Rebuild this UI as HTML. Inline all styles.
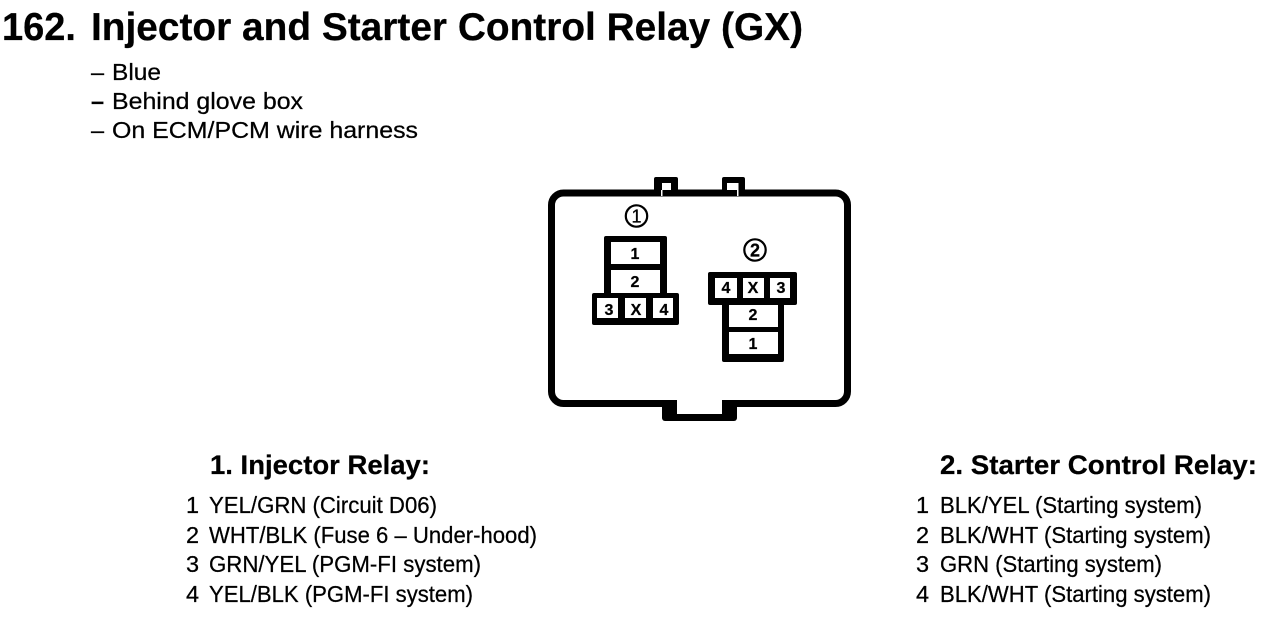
<!DOCTYPE html>
<html><head><meta charset="utf-8"><style>
html,body{margin:0;padding:0;background:#fff;width:1280px;height:624px;overflow:hidden}
svg{display:block}
text{font-family:"Liberation Sans",sans-serif;fill:#000;stroke:#000;stroke-width:.25px}
.t{font-size:39px;font-weight:bold}
.h{font-size:27px;font-weight:bold}
.b{font-size:23.500px}
.c{font-size:16px;font-weight:bold;text-anchor:middle}
</style></head><body>
<svg width="1280" height="624" viewBox="0 0 1280 624" xmlns="http://www.w3.org/2000/svg">
<text class="t" x="2" y="40" textLength="74" lengthAdjust="spacingAndGlyphs">162.</text>
<text class="t" x="91" y="40" textLength="712" lengthAdjust="spacingAndGlyphs">Injector and Starter Control Relay (GX)</text>
<text class="b" x="91" y="80">–</text><text class="b" x="112" y="80" textLength="49" lengthAdjust="spacingAndGlyphs">Blue</text>
<text class="b" x="91" y="109" style="font-weight:bold">–</text><text class="b" x="112" y="109" textLength="191" lengthAdjust="spacingAndGlyphs">Behind glove box</text>
<text class="b" x="91" y="138">–</text><text class="b" x="112" y="138" textLength="306" lengthAdjust="spacingAndGlyphs">On ECM/PCM wire harness</text>

<!-- housing -->
<rect x="551.500" y="193" width="296" height="210.500" rx="12" fill="none" stroke="#000" stroke-width="7"/>
<g fill="#000">
<rect x="654" y="177" width="24" height="19" rx="2"/>
<rect x="722" y="177" width="23" height="19" rx="2"/>
<rect x="662" y="400" width="75" height="21" rx="3"/>
</g>
<g fill="#fff">
<rect x="662" y="183" width="9" height="7"/>
<rect x="661" y="190" width="1.500" height="6"/>
<rect x="727" y="183" width="10" height="7"/>
<rect x="737" y="183" width="1.500" height="13"/>
<rect x="677" y="399" width="45" height="15"/>
</g>
<g fill="#000">
<rect x="604" y="236" width="63" height="62" rx="2"/>
<rect x="592" y="293" width="87" height="32" rx="2"/>
<rect x="708" y="272" width="89" height="33" rx="2"/>
<rect x="722" y="300" width="62" height="62" rx="2"/>
</g>
<g fill="#fff">
<rect x="611" y="242" width="49" height="22"/>
<rect x="611" y="270" width="49" height="23"/>
<rect x="597" y="298" width="21" height="20"/>
<rect x="625" y="298" width="21" height="20"/>
<rect x="653" y="298" width="20" height="20"/>
<rect x="715" y="278" width="22" height="20"/>
<rect x="743" y="278" width="21" height="20"/>
<rect x="770" y="278" width="20" height="20"/>
<rect x="729" y="305" width="49" height="22"/>
<rect x="729" y="332" width="49" height="22"/>
</g>
<text class="c" x="635" y="259">1</text>
<text class="c" x="635" y="287">2</text>
<text class="c" x="609" y="315">3</text>
<text class="c" x="636" y="315">X</text>
<text class="c" x="664" y="315">4</text>
<text class="c" x="726" y="293">4</text>
<text class="c" x="753" y="293">X</text>
<text class="c" x="781" y="293">3</text>
<text class="c" x="753" y="320">2</text>
<text class="c" x="753" y="349">1</text>
<circle cx="636.500" cy="216" r="10.700" fill="none" stroke="#000" stroke-width="2.200"/>
<text x="636.500" y="222.500" text-anchor="middle" style="font-size:18px">1</text>
<circle cx="755" cy="250" r="10.700" fill="none" stroke="#000" stroke-width="2.200"/>
<text x="755" y="256.500" text-anchor="middle" style="font-size:18px;font-weight:bold">2</text>

<text class="h" x="210" y="474" textLength="220" lengthAdjust="spacingAndGlyphs">1. Injector Relay:</text>
<text class="b" x="186" y="513">1</text><text class="b" x="209" y="513" textLength="228" lengthAdjust="spacingAndGlyphs">YEL/GRN (Circuit D06)</text>
<text class="b" x="186" y="543">2</text><text class="b" x="209" y="543" textLength="328" lengthAdjust="spacingAndGlyphs">WHT/BLK (Fuse 6 – Under-hood)</text>
<text class="b" x="186" y="572">3</text><text class="b" x="209" y="572" textLength="272" lengthAdjust="spacingAndGlyphs">GRN/YEL (PGM-FI system)</text>
<text class="b" x="186" y="602">4</text><text class="b" x="209" y="602" textLength="264" lengthAdjust="spacingAndGlyphs">YEL/BLK (PGM-FI system)</text>

<text class="h" x="940" y="474" textLength="317" lengthAdjust="spacingAndGlyphs">2. Starter Control Relay:</text>
<text class="b" x="916" y="513">1</text><text class="b" x="940" y="513" textLength="262" lengthAdjust="spacingAndGlyphs">BLK/YEL (Starting system)</text>
<text class="b" x="916" y="543">2</text><text class="b" x="940" y="543" textLength="271" lengthAdjust="spacingAndGlyphs">BLK/WHT (Starting system)</text>
<text class="b" x="916" y="572">3</text><text class="b" x="940" y="572" textLength="222" lengthAdjust="spacingAndGlyphs">GRN (Starting system)</text>
<text class="b" x="916" y="602">4</text><text class="b" x="940" y="602" textLength="271" lengthAdjust="spacingAndGlyphs">BLK/WHT (Starting system)</text>
</svg>
</body></html>
